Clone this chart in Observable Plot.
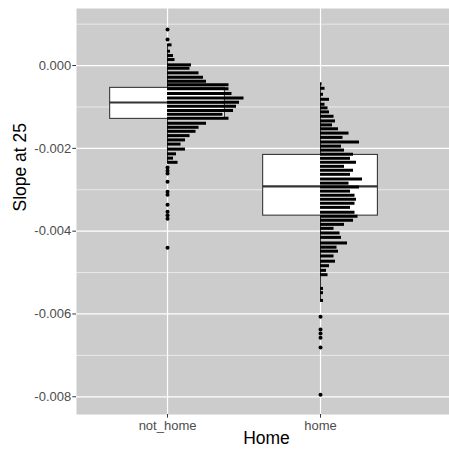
<!DOCTYPE html>
<html><head><meta charset="utf-8">
<script src="https://cdn.jsdelivr.net/npm/d3@7"></script>
<script src="https://cdn.jsdelivr.net/npm/@observablehq/plot@0.6"></script>
<style>body{margin:0;background:#fff}</style>
</head><body><div id="chart"></div>
<script>
const categories = ["not_home", "home"];
const yTicks = [0, -0.002, -0.004, -0.006, -0.008];
const yMinor = [0.001, -0.001, -0.003, -0.005, -0.007];

// dot-plot bins (bin centre value, number of stacked dots)
const notHomeBinValues = [0.000500, 0.000346, 0.000242, 0.000145, 0.000017, -0.000065, -0.000176, -0.000283, -0.000379, -0.000466, -0.000563, -0.000677, -0.000781, -0.000887, -0.000983, -0.001088, -0.001177, -0.001274, -0.001395, -0.001491, -0.001588, -0.001692, -0.001796, -0.001897, -0.002018, -0.002132, -0.002236, -0.002337];
const notHomeBinCounts = [3, 2, 4, 5, 16, 15, 21, 24, 26, 41, 41, 43, 51, 48, 46, 44, 37, 41, 26, 21, 19, 15, 12, 9, 12, 6, 4, 7];
const homeBinValues = [-0.000442, -0.000549, -0.000694, -0.000815, -0.000935, -0.001022, -0.001119, -0.001225, -0.001337, -0.001433, -0.001527, -0.001631, -0.001735, -0.001844, -0.001946, -0.002042, -0.002144, -0.002240, -0.002337, -0.002434, -0.002531, -0.002627, -0.002738, -0.002840, -0.002932, -0.003033, -0.003130, -0.003231, -0.003328, -0.003425, -0.003541, -0.003642, -0.003739, -0.003836, -0.003932, -0.004043, -0.004150, -0.004285, -0.004387, -0.004483, -0.004599, -0.004725, -0.004834, -0.004947, -0.005051, -0.005383, -0.005486, -0.005673];
const homeBinCounts = [1, 3, 2, 6, 3, 5, 6, 9, 10, 8, 12, 19, 15, 26, 14, 16, 22, 20, 24, 16, 22, 20, 28, 19, 26, 20, 23, 24, 23, 20, 23, 25, 22, 16, 9, 13, 14, 18, 11, 12, 9, 10, 6, 4, 5, 2, 2, 2];

// outliers
const notHomeOutliers = [0.000870, 0.000628, -0.002465, -0.002538, -0.002610, -0.002804, -0.003045, -0.003118, -0.003360, -0.003529, -0.003613, -0.003698, -0.004399];
const homeOutliers = [-0.006066, -0.006373, -0.006470, -0.006574, -0.006808, -0.007952];

// box statistics per category
const boxQ1 = [-0.001288, -0.003625];
const boxMedian = [-0.000894, -0.002917];
const boxQ3 = [-0.000539, -0.002158];
const whiskerLow = [-0.002337, -0.005673];
const whiskerHigh = [0.000500, -0.000442];

const boxes = categories.map((c, i) => ({cat: i + 1, q1: boxQ1[i], med: boxMedian[i], q3: boxQ3[i], lo: whiskerLow[i], hi: whiskerHigh[i]}));
const bins = [
  ...notHomeBinValues.map((v, i) => ({cat: 1, v, n: notHomeBinCounts[i]})),
  ...homeBinValues.map((v, i) => ({cat: 2, v, n: homeBinCounts[i]}))
];
const outliers = [
  ...notHomeOutliers.map(v => ({cat: 1, v})),
  ...homeOutliers.map(v => ({cat: 2, v}))
];

const dotUnit = 0.0098;
const halfBox = 0.375;

const chart = Plot.plot({
  width: 449,
  height: 452,
  marginLeft: 76,
  marginRight: 0,
  marginTop: 8,
  marginBottom: 38,
  x: {domain: [0.405, 2.843], axis: null},
  y: {domain: [-0.008428, 0.001378], axis: null},
  style: {fontFamily: "'Liberation Sans', Arial, sans-serif", background: "#fff", overflow: "visible"},
  marks: [
    Plot.frame({fill: "#cccccc", stroke: null}),
    Plot.gridY(yMinor, {stroke: "white", strokeOpacity: 1, strokeWidth: 0.6}),
    Plot.gridY(yTicks, {stroke: "white", strokeOpacity: 1, strokeWidth: 1.2}),
    Plot.gridX([1, 2], {stroke: "white", strokeOpacity: 1, strokeWidth: 1.2}),
    Plot.axisY(yTicks, {tickSize: 3.7, tickPadding: 1.6, stroke: "#333333", fill: "#4d4d4d", fontSize: 13, tickFormat: d => d.toFixed(3), label: null}),
    Plot.axisX([1, 2], {tickSize: 3.7, tickPadding: 2.6, stroke: "#333333", fill: "#4d4d4d", fontSize: 13, tickFormat: d => categories[d - 1], label: null}),
    Plot.ruleX(boxes, {x: "cat", y1: "lo", y2: "hi", stroke: "#333333", strokeWidth: 1.07}),
    Plot.rect(boxes, {x1: d => d.cat - halfBox, x2: d => d.cat + halfBox, y1: "q1", y2: "q3", fill: "white", stroke: "#333333", strokeWidth: 1.07}),
    Plot.ruleY(boxes, {y: "med", x1: d => d.cat - halfBox, x2: d => d.cat + halfBox, stroke: "#333333", strokeWidth: 2.1}),
    Plot.dot(outliers, {x: "cat", y: "v", r: 2, fill: "black", stroke: null}),
    Plot.ruleY(bins, {y: "v", x1: "cat", x2: d => d.cat + d.n * dotUnit, stroke: "black", strokeWidth: 3}),
    Plot.text(["Slope at 25"], {text: d => d, frameAnchor: "left", dx: -56, rotate: -90, fontSize: 17.5, fill: "black"}),
    Plot.text(["Home"], {text: d => d, frameAnchor: "bottom", dy: 29, dx: 3.5, fontSize: 17.5, fill: "black"})
  ]
});
document.getElementById("chart").appendChild(chart);
</script></body></html>
